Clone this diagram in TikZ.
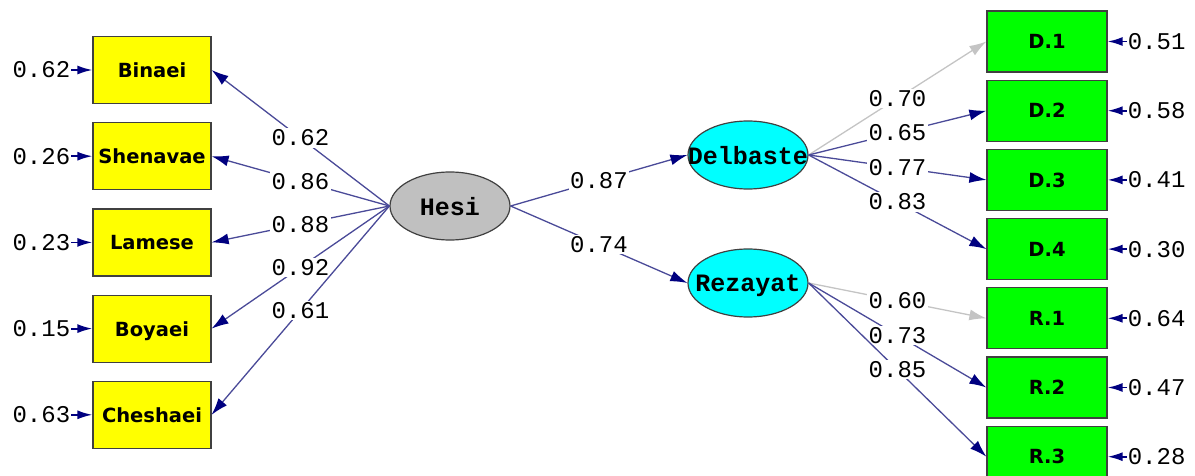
\documentclass[tikz,border=0pt]{standalone}
\usepackage{fontspec}
\setsansfont{DejaVu Sans}
\setmonofont{Liberation Mono}
\usetikzlibrary{arrows.meta,positioning,shapes.geometric}
\definecolor{lisyellow}{HTML}{FFFF00}
\definecolor{lisgreen}{HTML}{00FF00}
\definecolor{liscyan}{HTML}{00FFFF}
\definecolor{lisgrey}{HTML}{C0C0C0}
\definecolor{lisnavy}{HTML}{000080}
\definecolor{lisline}{HTML}{4A4A98}
\definecolor{lisfixed}{HTML}{C4C4C4}
% latent names may be wider than their ellipse
\newcommand\lvname[1]{\makebox[0pt]{#1}}

\begin{document}
\begin{tikzpicture}[
x=1pt,y=1pt,
ind/.style={draw=black!75,line width=1.2pt,fill=lisyellow,inner sep=0pt,
minimum width=118pt,minimum height=67pt,text depth=0pt,
font=\sffamily\bfseries\fontsize{19.5}{19.5}\selectfont},
dep/.style={ind,fill=lisgreen,minimum width=120pt,minimum height=61pt},
lat/.style={ellipse,draw=black!75,line width=1.2pt,inner sep=0pt,
minimum width=120pt,minimum height=68pt,text depth=0pt,
font=\ttfamily\bfseries\fontsize{25}{25}\selectfont},
est/.style={fill=white,text=black,inner sep=1.5pt,
font=\ttfamily\fontsize{24}{24}\selectfont},
err/.style={est,inner sep=1pt},
arr/.style={lisline,line width=1.3pt,-{Latex[length=17pt,width=11pt,color=lisnavy]}},
fixarr/.style={lisfixed,line width=1.3pt,-{Latex[length=17pt,width=11pt]}},
errarr/.style={lisnavy,line width=1.8pt,-{Latex[length=15pt,width=9pt]}}
]
\useasboundingbox (0,0) rectangle (1195,475);

% latent variables
\node[lat,fill=lisgrey] (hesi) at (450,269) {\lvname{Hesi}};
\node[lat,fill=liscyan] (delbaste) at (748,320) {\lvname{Delbaste}};
\node[lat,fill=liscyan] (rezayat) at (748,192) {\lvname{Rezayat}};

% indicators of Hesi
\node[ind] (binaei) at (152,405) {Binaei};
\node[ind,below=18pt of binaei] (shenavae) {Shenavae};
\node[ind,below=18pt of shenavae] (lamese) {Lamese};
\node[ind,below=18pt of lamese] (boyaei) {Boyaei};
\node[ind,below=18pt of boyaei] (cheshaei) {Cheshaei};

% indicators of Delbaste and Rezayat
\node[dep] (d1) at (1047,433.5) {D.1};
\node[dep,below=7pt of d1] (d2) {D.2};
\node[dep,below=7pt of d2] (d3) {D.3};
\node[dep,below=7pt of d3] (d4) {D.4};
\node[dep,below=7pt of d4] (r1) {R.1};
\node[dep,below=7pt of r1] (r2) {R.2};
\node[dep,below=7pt of r2] (r3) {R.3};

% error variances
\node[err,left=21pt of binaei] (ebinaei) {0.62};
\node[err,left=21pt of shenavae] (eshenavae) {0.26};
\node[err,left=21pt of lamese] (elamese) {0.23};
\node[err,left=21pt of boyaei] (eboyaei) {0.15};
\node[err,left=21pt of cheshaei] (echeshaei) {0.63};
\node[err,right=19pt of d1] (ed1) {0.51};
\node[err,right=19pt of d2] (ed2) {0.58};
\node[err,right=19pt of d3] (ed3) {0.41};
\node[err,right=19pt of d4] (ed4) {0.30};
\node[err,right=19pt of r1] (er1) {0.64};
\node[err,right=19pt of r2] (er2) {0.47};
\node[err,right=19pt of r3] (er3) {0.28};

\draw[errarr] (ebinaei) -- (binaei);
\draw[errarr] (eshenavae) -- (shenavae);
\draw[errarr] (elamese) -- (lamese);
\draw[errarr] (eboyaei) -- (boyaei);
\draw[errarr] (echeshaei) -- (cheshaei);
\draw[errarr] (ed1) -- (d1);
\draw[errarr] (ed2) -- (d2);
\draw[errarr] (ed3) -- (d3);
\draw[errarr] (ed4) -- (d4);
\draw[errarr] (er1) -- (r1);
\draw[errarr] (er2) -- (r2);
\draw[errarr] (er3) -- (r3);

% loadings
\draw[arr] (hesi.west) -- node[est]{0.62} (binaei.east);
\draw[arr] (hesi.west) -- node[est]{0.86} (shenavae.east);
\draw[arr] (hesi.west) -- node[est]{0.88} (lamese.east);
\draw[arr] (hesi.west) -- node[est]{0.92} (boyaei.east);
\draw[arr] (hesi.west) -- node[est]{0.61} (cheshaei.east);

\draw[arr] (hesi.east) -- node[est]{0.87} (delbaste.west);
\draw[arr] (hesi.east) -- node[est]{0.74} (rezayat.west);

\draw[fixarr] (delbaste.east) -- node[est]{0.70} (d1.west);
\draw[arr] (delbaste.east) -- node[est]{0.65} (d2.west);
\draw[arr] (delbaste.east) -- node[est]{0.77} (d3.west);
\draw[arr] (delbaste.east) -- node[est]{0.83} (d4.west);

\draw[fixarr] (rezayat.east) -- node[est]{0.60} (r1.west);
\draw[arr] (rezayat.east) -- node[est]{0.73} (r2.west);
\draw[arr] (rezayat.east) -- node[est]{0.85} (r3.west);
\end{tikzpicture}
\end{document}
